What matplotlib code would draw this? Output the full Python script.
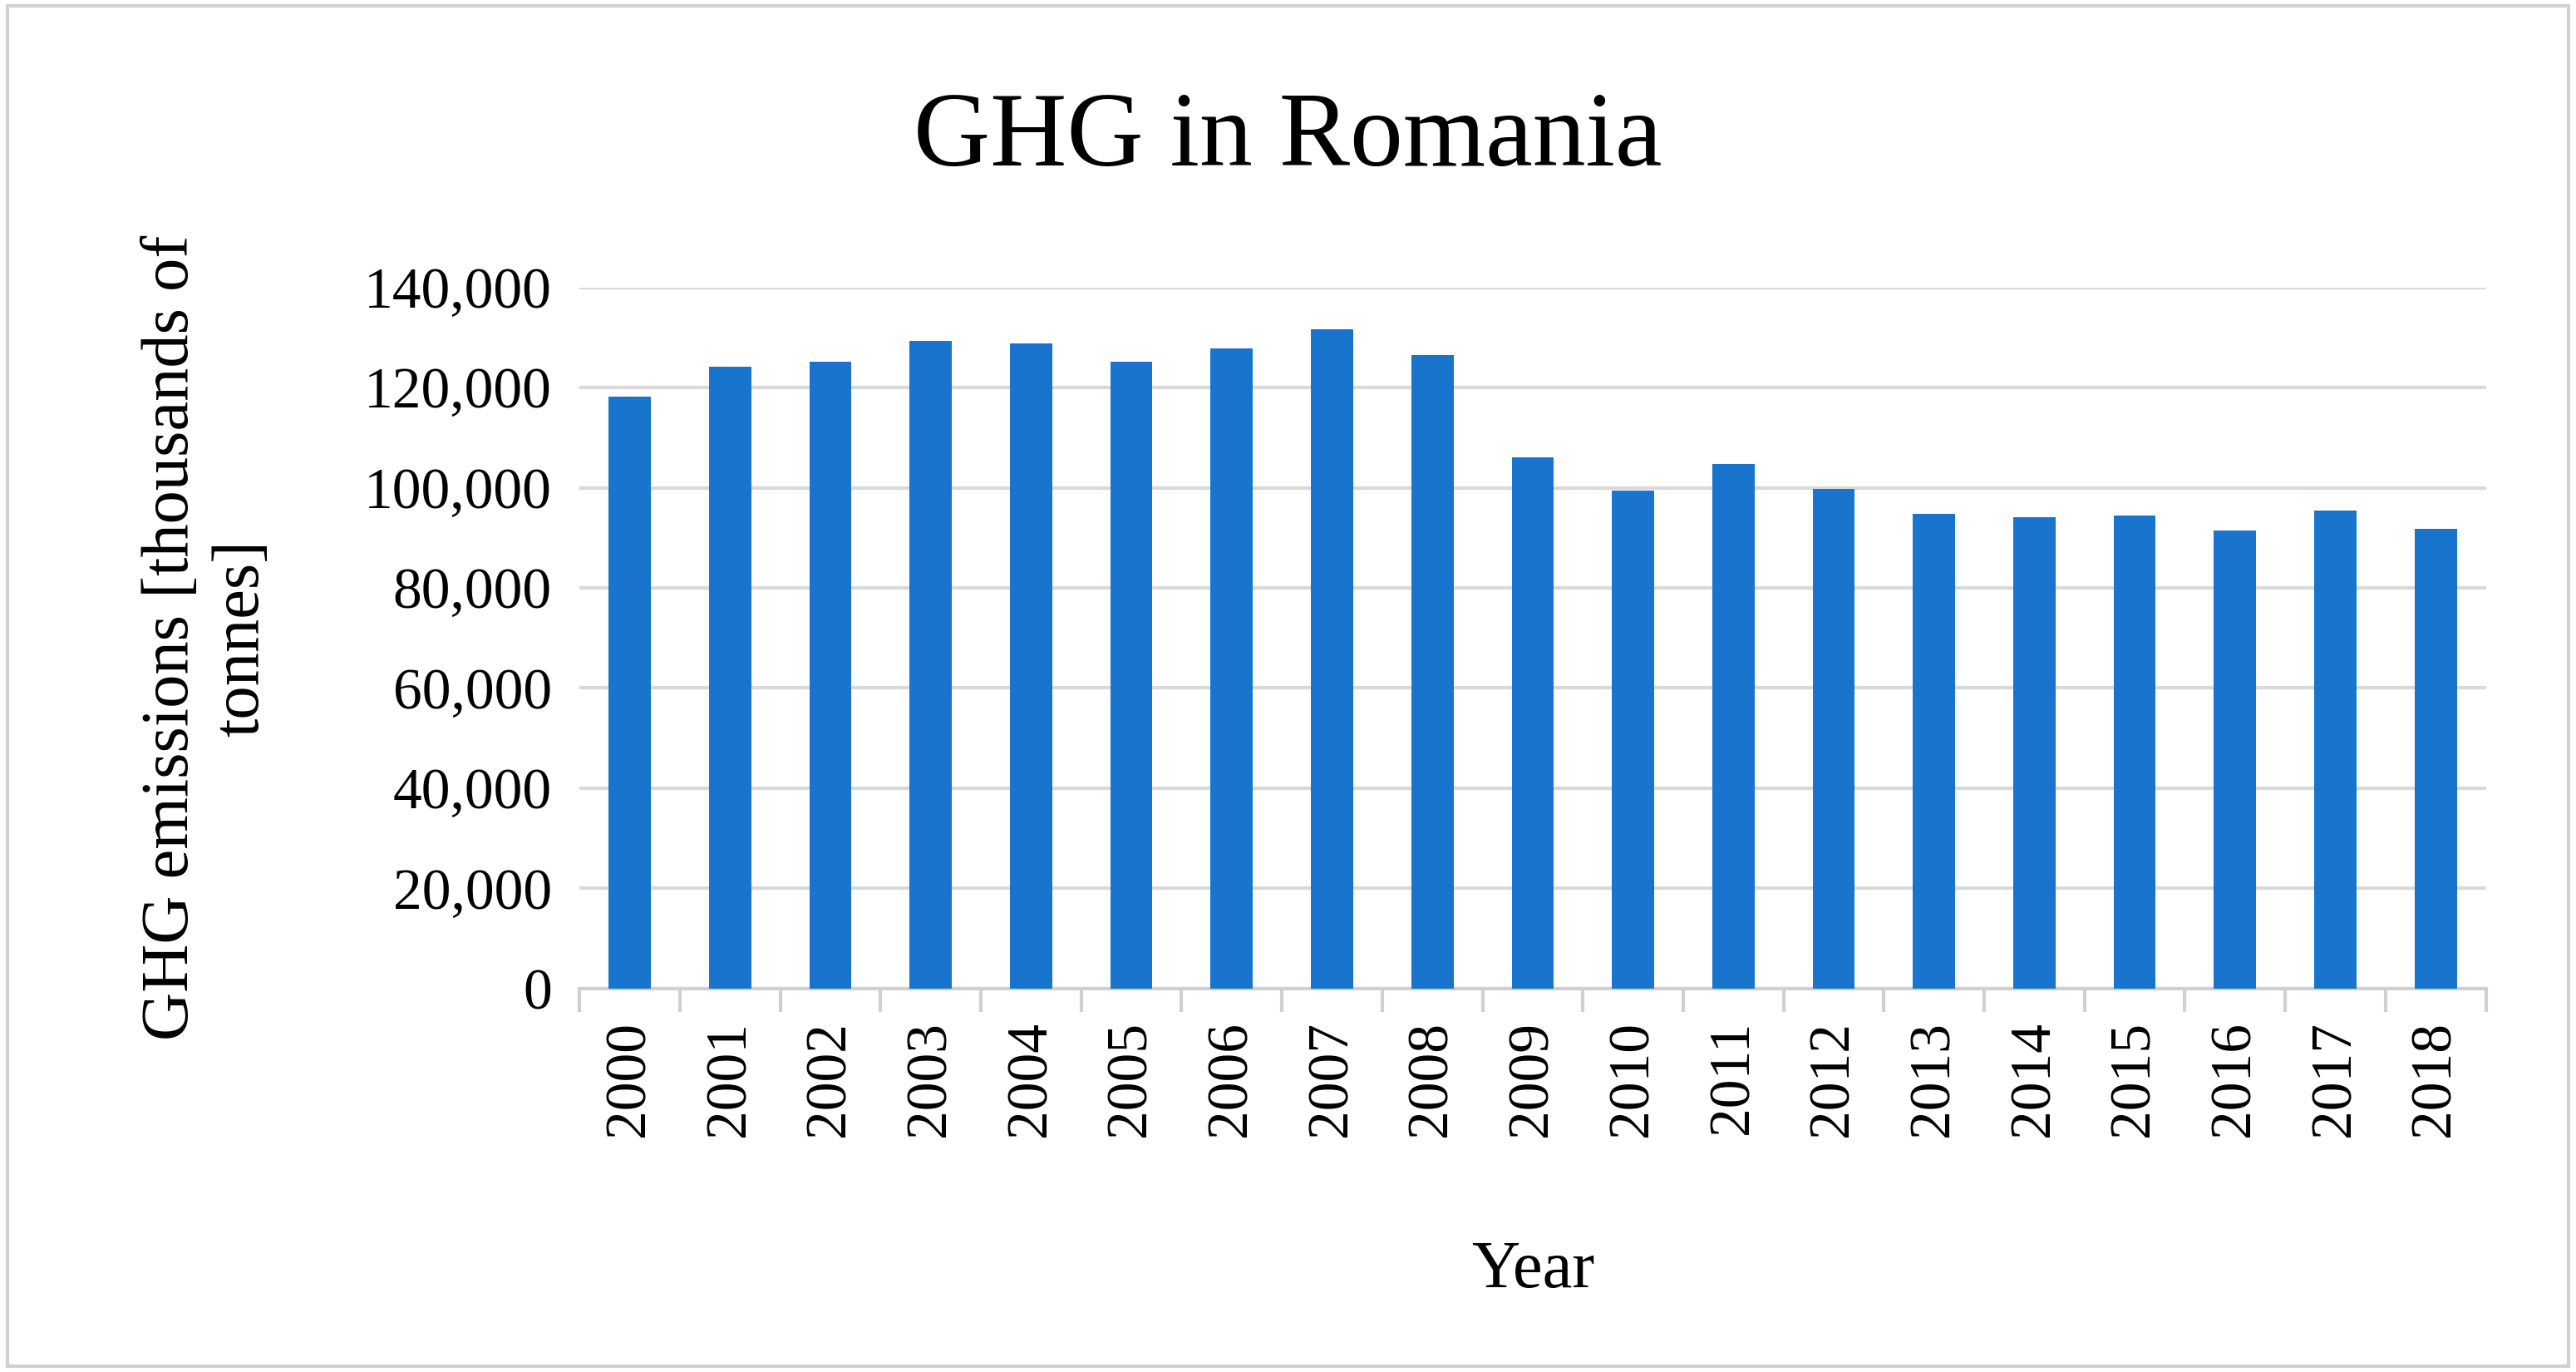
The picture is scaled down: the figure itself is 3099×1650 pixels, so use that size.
import matplotlib
matplotlib.use("Agg")
import matplotlib.pyplot as plt
from matplotlib.patches import Rectangle
from matplotlib.ticker import FuncFormatter, FixedLocator

years = [str(y) for y in range(2000, 2019)]
values = [118200, 124100, 125100, 129400, 128800, 125100, 127800, 131700, 126500,
          106000, 99400, 104700, 99700, 94800, 94100, 94400, 91500, 95400, 91800]

plt.rcParams['font.family'] = ['Liberation Serif', 'DejaVu Serif']
fig = plt.figure(figsize=(15.495, 8.25), dpi=200)
fig.patches.append(Rectangle((0.003, 0.004), 0.994, 0.992, transform=fig.transFigure,
                             fill=False, edgecolor='#d0d0d0', linewidth=1.5))
ax = fig.add_axes([0.225, 0.2795, 0.74, 0.511])
x = list(range(len(years)))
ax.bar(x, values, width=0.42, color='#1874CD', zorder=3)
ax.set_xlim(-0.5, len(years) - 0.5)
ax.set_ylim(0, 140000)
ax.set_yticks(range(0, 140001, 20000))
ax.yaxis.set_major_formatter(FuncFormatter(lambda v, p: f"{int(v):,}"))
ax.grid(axis='y', color='#d9d9d9', linewidth=1.5, zorder=0)
ax.tick_params(axis='y', length=0, labelsize=25, pad=12)
ax.set_xticks(x)
ax.set_xticklabels(years, rotation=90, fontsize=25)
ax.tick_params(axis='x', length=0, pad=14)
ax.xaxis.set_minor_locator(FixedLocator([i - 0.5 for i in range(len(years) + 1)]))
ax.tick_params(axis='x', which='minor', length=10, color='#d0d0d0', width=1.5)
for s in ['top', 'right', 'left']:
    ax.spines[s].set_visible(False)
ax.spines['bottom'].set_color('#d0d0d0')
ax.spines['bottom'].set_linewidth(1.5)
ax.set_xlabel('Year', fontsize=29, labelpad=45)
ax.set_ylabel('GHG emissions [thousands of\ntonnes]', fontsize=29, labelpad=40)
fig.text(0.5, 0.898, 'GHG in Romania', ha='center', va='center', fontsize=46)
fig.savefig('out.png', dpi=200)
